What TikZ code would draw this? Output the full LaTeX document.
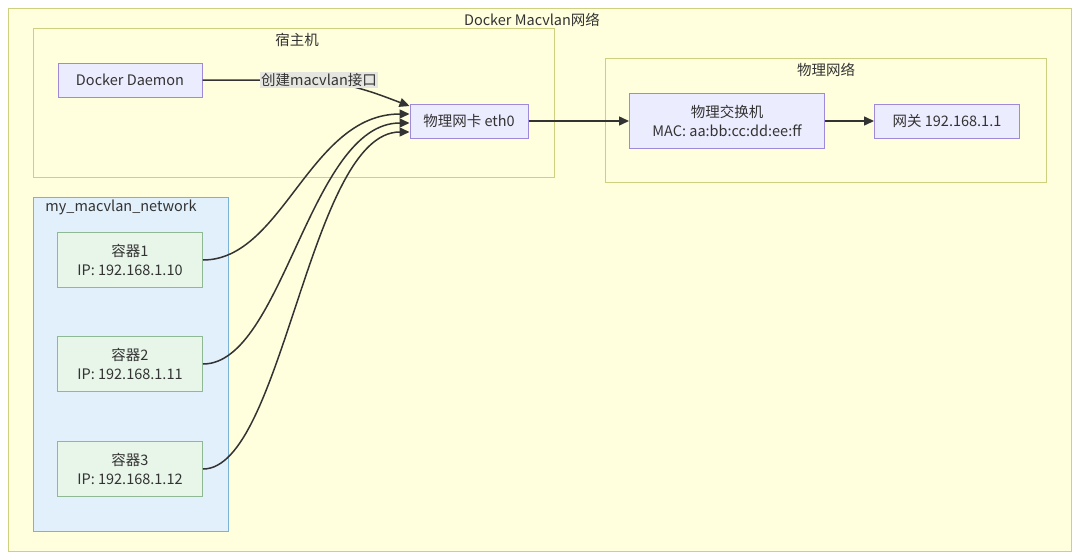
\documentclass[tikz,border=0pt]{standalone}
\usepackage{fontspec}
\setmainfont{Noto Sans CJK SC}
\usetikzlibrary{arrows.meta,positioning}
\definecolor{ClusterFill}{HTML}{FFFFDE}
\definecolor{ClusterLine}{HTML}{CDD17F}
\definecolor{NodeFill}{HTML}{ECECFF}
\definecolor{NodeLine}{HTML}{9F8AD9}
\definecolor{NetFill}{HTML}{E2F0FB}
\definecolor{NetLine}{HTML}{7AB3D4}
\definecolor{CtrFill}{HTML}{E8F5E9}
\definecolor{CtrLine}{HTML}{8FB894}
\definecolor{EdgeLine}{HTML}{333333}
\definecolor{LabelFill}{HTML}{E6E6E0}

\begin{document}
\begin{tikzpicture}[
  x=1pt,y=-1pt,
  every node/.style={font=\fontsize{14.5}{18.5}\selectfont,text=black!80},
  cluster/.style={draw=ClusterLine,fill=ClusterFill,line width=1pt},
  netcluster/.style={draw=NetLine,fill=NetFill,line width=1pt},
  title/.style={inner sep=0pt},
  box/.style={draw=NodeLine,fill=NodeFill,line width=1pt,inner sep=0pt,
    minimum height=34pt,align=center},
  ctr/.style={draw=CtrLine,fill=CtrFill,line width=1pt,inner sep=0pt,
    minimum width=145pt,minimum height=55pt,align=center},
  elabel/.style={fill=LabelFill,inner sep=1pt},
  arrow/.style={-{Triangle[length=10pt,width=9pt]},draw=EdgeLine,line width=1.5pt}
]
\useasboundingbox[fill=white] (0,0) rectangle (1080,560);

% clusters
\draw[cluster] (8,8) rectangle (1071,551);
\node[title] (mainT) at (532,20) {Docker Macvlan网络};
\draw[cluster] (33,28) rectangle (554,177);
\node[title] (hostT) at (297,40) {宿主机};
\draw[cluster] (605,58) rectangle (1046,182);
\node[title] (physT) at (826,70) {物理网络};
\draw[netcluster] (33,197) rectangle (228,531);
\node[title] (netT) at (121,207) {my\_macvlan\_network};

% nodes
\node[box,minimum width=144pt] (daemon) at (130,80) {Docker Daemon};
\node[box,minimum width=118pt] (eth0) at (469,121) {物理网卡 eth0};
\node[box,minimum width=195pt,minimum height=55pt] (switch) at (727,121)
  {物理交换机\\MAC: aa:bb:cc:dd:ee:ff};
\node[box,minimum width=145pt] (gateway) at (947,121) {网关 192.168.1.1};
\node[ctr] (c1) at (130,260) {容器1\\IP: 192.168.1.10};
\node[ctr] (c2) at (130,364) {容器2\\IP: 192.168.1.11};
\node[ctr] (c3) at (130,469) {容器3\\IP: 192.168.1.12};

% edges
\draw[arrow] (daemon.east) -- (300,80) .. controls (345,80) and (380,95) .. ([yshift=15pt]eth0.west);
\node[elabel] (lbl) at (319,80) {创建macvlan接口};
\draw[arrow] (c1.east) .. controls +(80,0) and +(-100,0) .. ([yshift=7pt]eth0.west);
\draw[arrow] (c2.east) .. controls +(80,0) and +(-100,0) .. ([yshift=-2pt]eth0.west);
\draw[arrow] (c3.east) .. controls +(80,0) and +(-100,0) .. ([yshift=-11pt]eth0.west);
\draw[arrow] (eth0) -- (switch);
\draw[arrow] (switch) -- (gateway);
\end{tikzpicture}
\end{document}
